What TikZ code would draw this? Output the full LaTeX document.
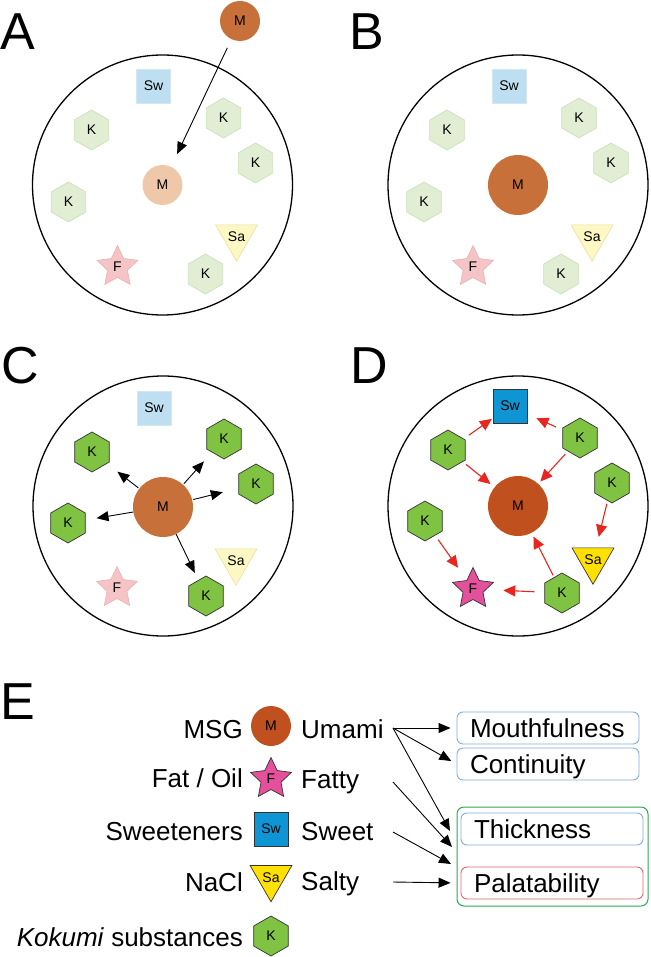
\documentclass[tikz,border=0pt]{standalone}
\usepackage{fontspec}
\setmainfont{Liberation Sans}
\usetikzlibrary{shapes.geometric,arrows.meta}
\definecolor{mOrange}{HTML}{C8703A}
\definecolor{mPale}{HTML}{EFC8AA}
\definecolor{mDark}{HTML}{C0501E}
\definecolor{swPale}{HTML}{BEDFF1}
\definecolor{swPaleB}{HTML}{D3E6F2}
\definecolor{swDark}{HTML}{0E96D4}
\definecolor{kPale}{HTML}{E1EED4}
\definecolor{kPaleB}{HTML}{CADDB6}
\definecolor{kGreen}{HTML}{80C342}
\definecolor{fPale}{HTML}{F5C4C6}
\definecolor{fPaleB}{HTML}{EBB0B3}
\definecolor{fPink}{HTML}{E4509B}
\definecolor{saPale}{HTML}{FDF7C3}
\definecolor{saPaleB}{HTML}{E8E1A0}
\definecolor{saYellow}{HTML}{FFE000}
\definecolor{boxBlue}{HTML}{7FAEDC}
\definecolor{boxRed}{HTML}{E4666F}
\definecolor{boxGreen}{HTML}{2BA855}
\definecolor{arrRed}{HTML}{E8251E}
\begin{document}
\begin{tikzpicture}[x=1pt,y=-1pt,
  lbl/.style={font=\fontsize{14}{14}\selectfont, inner sep=0pt, text=black},
  hexbase/.style={regular polygon, regular polygon sides=6, shape border rotate=30, minimum size=40pt, lbl},
  kpale/.style={hexbase, fill=kPale, draw=kPaleB, line width=0.6pt},
  kgreen/.style={hexbase, fill=kGreen, draw=black!80, line width=0.7pt},
  sqbase/.style={rectangle, minimum size=34pt, lbl},
  swpale/.style={sqbase, fill=swPale, draw=swPaleB, line width=0.6pt},
  swdark/.style={sqbase, fill=swDark, draw=black!80, line width=0.7pt},
  tribase/.style={regular polygon, regular polygon sides=3, shape border rotate=180, minimum size=46pt, lbl},
  sapale/.style={tribase, fill=saPale, draw=saPaleB, line width=0.6pt},
  sayellow/.style={tribase, fill=saYellow, draw=black!80, line width=0.7pt},
  starbase/.style={star, star points=5, star point ratio=2.05, minimum size=43pt, lbl},
  fpale/.style={starbase, fill=fPale, draw=fPaleB, line width=0.6pt},
  fpink/.style={starbase, fill=fPink, draw=black!80, line width=0.7pt},
  msmall/.style={circle, minimum size=40pt, lbl},
  mbig/.style={circle, minimum size=60pt, lbl},
  panel/.style={circle, draw=black, line width=1.3pt, minimum size=260pt, inner sep=0pt},
  plabel/.style={font=\fontsize{52}{52}\selectfont, anchor=base west, inner sep=0pt},
  etext/.style={font=\fontsize{26}{26}\selectfont, inner sep=0pt},
  blk/.style={draw=black, line width=0.9pt, -{Triangle[length=12pt,width=10pt]}},
  redarr/.style={draw=arrRed, line width=1.1pt, -{Triangle[length=12pt,width=11pt]}},
  tbox/.style={rectangle, rounded corners=6pt, line width=0.9pt, minimum height=32pt,
    text width=156pt, align=left, inner xsep=13pt, inner ysep=0pt,
    font=\fontsize{26}{26}\selectfont, text height=18.6pt, text depth=0pt}
]
\useasboundingbox (0,0) rectangle (650,957);

% ---------- Panel A ----------
\node[plabel] (labA) at (0,50) {A};
\begin{scope}[shift={(162.5,185)}]
  \node[panel] (Acirc) at (0,0) {};
  \node[swpale] (Asw) at (-9,-99) {Sw};
  \node[kpale] (Ak1) at (-71,-55) {K};
  \node[kpale] (Ak2) at (61,-67) {K};
  \node[kpale] (Ak3) at (93,-22) {K};
  \node[kpale] (Ak4) at (-94,17) {K};
  \node[kpale] (Ak5) at (43,89) {K};
  \node[sapale] (Asa) at (74,52) {Sa};
  \node[fpale] (Af) at (-45,82) {F};
  \node[msmall, fill=mPale] (Am) at (0,0) {M};
  \node[msmall, fill=mOrange] (Amtop) at (77.5,-164) {M};
  \draw[blk, shorten <=9.5pt, shorten >=14pt] (Amtop) -- (Am);
\end{scope}

% ---------- Panel B ----------
\node[plabel] (labB) at (349,50) {B};
\begin{scope}[shift={(518,185)}]
  \node[panel] (Bcirc) at (0,0) {};
  \node[swpale] (Bsw) at (-9,-99) {Sw};
  \node[kpale] (Bk1) at (-71,-55) {K};
  \node[kpale] (Bk2) at (61,-67) {K};
  \node[kpale] (Bk3) at (93,-22) {K};
  \node[kpale] (Bk4) at (-94,17) {K};
  \node[kpale] (Bk5) at (43,89) {K};
  \node[sapale] (Bsa) at (74,52) {Sa};
  \node[fpale] (Bf) at (-45,82) {F};
  \node[mbig, fill=mOrange] (Bm) at (0,0) {M};
\end{scope}

% ---------- Panel C ----------
\node[plabel] (labC) at (1,383) {C};
\begin{scope}[shift={(163,506)}]
  \node[panel] (Ccirc) at (0,0) {};
  \node[swpale] (Csw) at (-9,-98) {Sw};
  \node[kgreen] (Ck1) at (-71,-54) {K};
  \node[kgreen] (Ck2) at (61,-67) {K};
  \node[kgreen] (Ck3) at (93,-22) {K};
  \node[kgreen] (Ck4) at (-95,17) {K};
  \node[kgreen] (Ck5) at (43,90) {K};
  \node[sapale] (Csa) at (73,55) {Sa};
  \node[fpale] (Cf) at (-46,82) {F};
  \node[mbig, fill=mOrange] (Cm) at (0,1) {M};
  \draw[blk, shorten <=1pt, shorten >=13pt] (Cm) -- (Ck1);
  \draw[blk, shorten <=1pt, shorten >=12pt] (Cm) -- (Ck2);
  \draw[blk, shorten <=1pt, shorten >=16pt] (Cm) -- (Ck3);
  \draw[blk, shorten <=0pt, shorten >=11pt] (Cm) -- (Ck4);
  \draw[blk, shorten <=0pt, shorten >=8pt] (Cm) -- (Ck5);
\end{scope}

% ---------- Panel D ----------
\node[plabel] (labD) at (350,383) {D};
\begin{scope}[shift={(518,506)}]
  \node[panel] (Dcirc) at (0,0) {};
  \node[swdark] (Dsw) at (-8,-100) {Sw};
  \node[kgreen] (Dk1) at (-70,-56) {K};
  \node[kgreen] (Dk2) at (62,-68) {K};
  \node[kgreen] (Dk3) at (94,-23) {K};
  \node[kgreen] (Dk4) at (-93,15) {K};
  \node[kgreen] (Dk5) at (44,87) {K};
  \node[sayellow] (Dsa) at (75,54) {Sa};
  \node[fpink] (Df) at (-45,83) {F};
  \node[mbig, fill=mDark] (Dm) at (0,0) {M};
  \draw[redarr, shorten <=6pt, shorten >=1pt] (Dk1) -- (Dsw);
  \draw[redarr, shorten <=7pt, shorten >=10pt] (Dk2) -- (Dsw);
  \draw[redarr, shorten <=4pt, shorten >=5pt] (Dk1) -- (Dm);
  \draw[redarr, shorten <=4pt, shorten >=3pt] (Dk2) -- (Dm);
  \draw[redarr, shorten <=3pt, shorten >=11pt] (Dk3) -- (Dsa);
  \draw[redarr, shorten <=5pt, shorten >=15pt] (Dk4) -- (Df);
  \draw[redarr, shorten <=2pt, shorten >=4pt] (Dk5) -- (Dm);
  \draw[redarr, shorten <=10pt, shorten >=17pt] (Dk5) -- (Df);
\end{scope}

% ---------- Panel E ----------
\node[plabel] (labE) at (0,719) {E};
\node[msmall, fill=mDark] (Em) at (271,726) {M};
\node[fpink] (Ef) at (271,779) {F};
\node[swdark] (Esw) at (271,829) {Sw};
\node[sayellow] (Esa) at (271,877.5) {Sa};
\node[kgreen] (Ek) at (271,936) {K};

\node[etext, anchor=base east] (tMSG) at (243,738) {MSG};
\node[etext, anchor=base east] (tFat) at (243,787) {Fat / Oil};
\node[etext, anchor=base east] (tSwe) at (243,840) {Sweeteners};
\node[etext, anchor=base east] (tNa) at (243,891) {NaCl};
\node[etext, anchor=base east] (tKok) at (243,946) {\textit{Kokumi} substances};

\node[etext, anchor=base west] (tUm) at (301,738) {Umami};
\node[etext, anchor=base west] (tFa) at (301,788) {Fatty};
\node[etext, anchor=base west] (tSw) at (301,840) {Sweet};
\node[etext, anchor=base west] (tSa) at (301,890) {Salty};

\node[tbox, draw=boxBlue] (mouth) at (548,728) {Mouthfulness};
\node[tbox, draw=boxBlue] (cont) at (548,764) {Continuity};
\node[rectangle, rounded corners=7pt, draw=boxGreen, line width=1pt, minimum width=191pt, minimum height=99pt] (green) at (552.5,856.5) {};
\node[tbox, draw=boxBlue] (thick) at (552,829) {Thickness};
\node[tbox, draw=boxRed] (pal) at (552,883) {Palatability};

\coordinate (uS) at (393,728);
\coordinate (faS) at (393,782);
\coordinate (swS) at (393,832);
\coordinate (saS) at (393,882);
\coordinate (thE) at (450,831);
\coordinate (faE) at (452,847);
\coordinate (swE) at (451,864);

\draw[blk, shorten >=6pt] (uS) -- (mouth.west);
\draw[blk, shorten >=6pt] (uS) -- (cont.west);
\draw[blk] (uS) -- (thE);
\draw[blk] (faS) -- (faE);
\draw[blk] (swS) -- (swE);
\draw[blk, shorten >=10pt] (saS) -- (pal.west);
\end{tikzpicture}
\end{document}
